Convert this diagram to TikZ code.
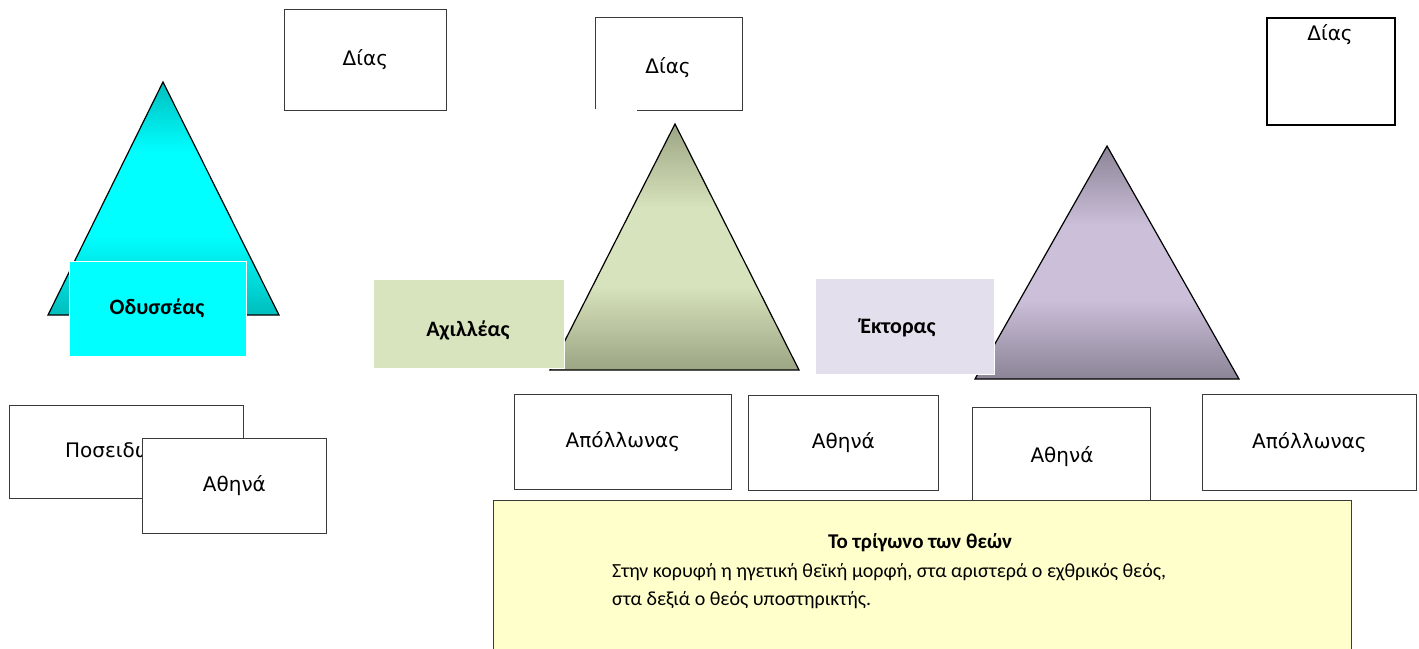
\documentclass[tikz,border=0pt]{standalone}
\usepackage{fontspec}
\setmainfont{DejaVu Sans}
\newfontfamily\calib{Carlito}
\usetikzlibrary{calc}
\definecolor{tealD}{HTML}{00BDBD}
\definecolor{cyanL}{HTML}{00FFFF}
\definecolor{oliveD}{HTML}{9CA584}
\definecolor{oliveL}{HTML}{D7E3BC}
\definecolor{purpD}{HTML}{8C8497}
\definecolor{purpL}{HTML}{CBBFD9}
\definecolor{achG}{HTML}{D7E4BD}
\definecolor{ektL}{HTML}{E4DFEC}
\definecolor{noteY}{HTML}{FFFFCC}
\definecolor{edgeG}{HTML}{3A3A3A}
\pgfdeclareverticalshading{shCyan}{100bp}{color(0bp)=(tealD); color(25bp)=(tealD); color(42bp)=(cyanL); color(60bp)=(cyanL); color(75bp)=(tealD); color(100bp)=(tealD)}
\pgfdeclareverticalshading{shOlive}{100bp}{color(0bp)=(oliveD); color(25bp)=(oliveD); color(42bp)=(oliveL); color(58bp)=(oliveL); color(75bp)=(oliveD); color(100bp)=(oliveD)}
\pgfdeclareverticalshading{shPurp}{100bp}{color(0bp)=(purpD); color(25bp)=(purpD); color(42bp)=(purpL); color(58bp)=(purpL); color(75bp)=(purpD); color(100bp)=(purpD)}
\begin{document}
\begin{tikzpicture}[x=1pt,y=-1pt,
  wbox/.style={draw=edgeG, line width=0.8pt, fill=white, anchor=north west, inner sep=0pt, font=\fontsize{20}{24}\selectfont},
  lbl/.style={inner sep=0pt, font=\fontsize{20}{24}\selectfont},
  cbox/.style={anchor=north west, inner sep=0pt, draw=white, line width=0.8pt},
  blbl/.style={inner sep=0pt, font=\calib\bfseries\fontsize{22}{26}\selectfont},
  tri/.style={draw=black, line width=1.2pt, line join=miter, shade}]
\clip (0,0) rectangle (1419,648);
\fill[white] (0,0) rectangle (1419,648);
% left group
\node[wbox, minimum width=162, minimum height=101] (dias1) at (284,9) {Δίας};
\draw[tri, shading=shCyan] (163,82) -- (279,315) -- (48,315) -- cycle;
\node[cbox, fill=cyanL, minimum width=177, minimum height=95] (odys) at (69,261) {};
\node[blbl] (odyst) at (157,308) {Οδυσσέας};
\node[wbox, minimum width=234, minimum height=93] (pos) at (9,405) {Ποσειδώνας};
\node[wbox, minimum width=184, minimum height=95] (ath1) at (142,438) {Αθηνά};
% middle group
\node[anchor=north west, inner sep=0pt, minimum width=147, minimum height=93] (dias2) at (595,17) {};
\node[lbl] (dias2t) at (668,68) {Δίας};
\draw[edgeG, line width=0.8pt] ($(dias2.south west)+(0,-1)$) -- (dias2.north west) -- (dias2.north east) -- (dias2.south east) -- ($(dias2.south west)+(42,0)$);
\draw[tri, shading=shOlive] (675,124) -- (799,370) -- (550,370) -- cycle;
\node[cbox, fill=achG, minimum width=191, minimum height=89] (achil) at (373,279) {};
\node[blbl] (achilt) at (468,330) {Αχιλλέας};
\node[wbox, minimum width=217, minimum height=95] (apol1) at (514,394) {Απόλλωνας};
\node[wbox, minimum width=190, minimum height=95] (ath2) at (748,395) {Αθηνά};
% right group
\node[draw=black, line width=1.8pt, fill=white, anchor=north west, inner sep=0pt, minimum width=128, minimum height=107] (dias3) at (1266,17) {};
\node[lbl] (dias3t) at (1330,35) {Δίας};
\draw[tri, shading=shPurp] (1107,146) -- (1239,379) -- (975,379) -- cycle;
\node[cbox, fill=ektL, minimum width=179, minimum height=96] (ektor) at (815,278) {};
\node[blbl] (ektort) at (898,328) {Έκτορας};
\node[wbox, minimum width=178, minimum height=115] (ath3) at (972,407) {};
\node[lbl] (ath3t) at (1062,457) {Αθηνά};
\node[wbox, minimum width=214, minimum height=96] (apol2) at (1202,394) {Απόλλωνας};
% note
\node[draw=edgeG, line width=0.8pt, fill=noteY, anchor=north west, inner sep=0pt, minimum width=858, minimum height=170] (note) at (493,500) {};
\node[inner sep=0pt, font=\calib\bfseries\fontsize{21}{25}\selectfont] (notet) at (920,543) {Το τρίγωνο των θεών};
\node[inner sep=0pt, anchor=west, align=left, font=\calib\fontsize{20}{28}\selectfont] (noteb) at (612,586) {Στην κορυφή η ηγετική θεϊκή μορφή, στα αριστερά ο εχθρικός θεός,\\στα δεξιά ο θεός υποστηρικτής.};
\end{tikzpicture}
\end{document}
